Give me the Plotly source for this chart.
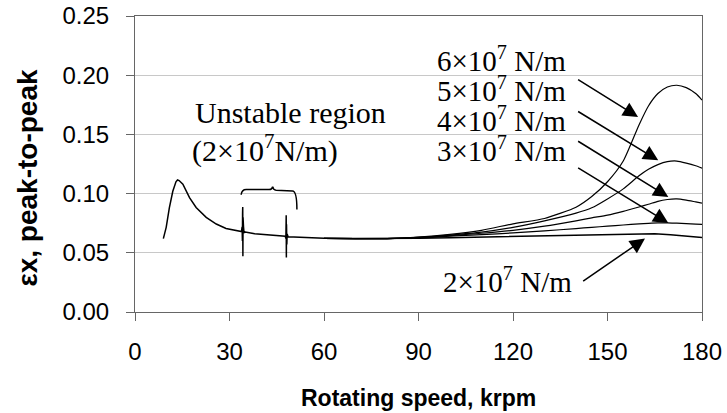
import plotly.graph_objects as go

# ---- data ----
speed_2e7 = [9.0, 9.9, 10.9, 12.0, 13.0, 13.5, 14.0, 15.2, 17.3, 19.4, 22.6, 25.8, 28.9, 32.6,
             33.8, 34.0, 34.1, 34.15, 34.2, 34.25, 34.3, 34.35, 34.45, 34.6, 35.0,
             38, 42, 46, 47.7, 47.9, 48.0, 48.05, 48.1, 48.2, 48.3, 48.6,
             52, 60, 70, 80, 90, 100, 115, 130, 140, 150, 160, 165, 170, 175, 180]
eps_2e7 = [0.062, 0.0715, 0.088, 0.102, 0.110, 0.1115, 0.111, 0.1079, 0.0966, 0.0883, 0.0799, 0.0743, 0.0706, 0.0687,
           0.068, 0.072, 0.060, 0.083, 0.0887, 0.047, 0.080, 0.056, 0.072, 0.067, 0.0675,
           0.066, 0.065, 0.0643, 0.064, 0.062, 0.0817, 0.046, 0.074, 0.057, 0.066, 0.0635,
           0.063, 0.0622, 0.062, 0.062, 0.0622, 0.0628, 0.0635, 0.0642, 0.0647, 0.0653, 0.0658, 0.066, 0.0652, 0.064, 0.063]

speed_hi = [60, 70, 80, 90, 100, 110, 120, 130, 140, 145, 150, 155, 160, 163, 166, 169, 172, 175, 178, 180]
eps_3e7 = [0.0622, 0.062, 0.062, 0.0625, 0.064, 0.0653, 0.0668, 0.0685, 0.0705, 0.0715, 0.0725, 0.0735,
           0.0745, 0.0749, 0.0752, 0.0752, 0.075, 0.0746, 0.0742, 0.074]
eps_4e7 = [0.0622, 0.062, 0.062, 0.063, 0.0645, 0.0665, 0.069, 0.0725, 0.077, 0.0795, 0.0818, 0.085,
           0.0887, 0.091, 0.0935, 0.095, 0.0955, 0.0945, 0.093, 0.092]
eps_5e7 = [0.0622, 0.062, 0.062, 0.063, 0.065, 0.0675, 0.0715, 0.077, 0.0835, 0.088, 0.0955, 0.104,
           0.115, 0.1205, 0.1245, 0.127, 0.1275, 0.1258, 0.1235, 0.1215]
eps_6e7 = [0.0622, 0.062, 0.062, 0.0632, 0.0655, 0.069, 0.0745, 0.079, 0.0885, 0.0975, 0.110, 0.1275,
           0.158, 0.174, 0.1845, 0.1900, 0.1915, 0.1895, 0.1845, 0.179]

x_ticks = [0, 30, 60, 90, 120, 150, 180]
y_ticks = [0.00, 0.05, 0.10, 0.15, 0.20, 0.25]

# label text, label anchor (tail of arrow) and arrow tip, in data units
labels = ["6×10<sup>7</sup> N/m", "5×10<sup>7</sup> N/m", "4×10<sup>7</sup> N/m",
          "3×10<sup>7</sup> N/m", "2×10<sup>7</sup> N/m"]
label_x = [95.3, 95.3, 95.3, 95.3, 97.0]
label_y = [0.2140, 0.1885, 0.1630, 0.1375, 0.0272]
tail_x = [140.2, 140.2, 140.2, 140.2, 141.8]
tail_y = [0.1971, 0.1701, 0.1450, 0.1225, 0.0253]
tip_x = [159.7, 166.1, 169.3, 169.3, 161.9]
tip_y = [0.1647, 0.1281, 0.0971, 0.0752, 0.0620]

SERIF = "Liberation Serif, Times New Roman, serif"
SANS = "Liberation Sans, Arial, sans-serif"

fig = go.Figure()
hi_line = dict(color="black", width=1.2, shape="spline", smoothing=0.6)
fig.add_trace(go.Scatter(x=speed_hi, y=eps_6e7, mode="lines", line=hi_line))
fig.add_trace(go.Scatter(x=speed_hi, y=eps_5e7, mode="lines", line=hi_line))
fig.add_trace(go.Scatter(x=speed_hi, y=eps_4e7, mode="lines", line=hi_line))
fig.add_trace(go.Scatter(x=speed_hi, y=eps_3e7, mode="lines", line=hi_line))
fig.add_trace(go.Scatter(x=speed_2e7, y=eps_2e7, mode="lines", line=dict(color="black", width=1.5)))

annotations = []
for t, lx, ly in zip(labels, label_x, label_y):
    annotations.append(dict(x=lx, y=ly, xref="x", yref="y", text=t, showarrow=False,
                            xanchor="left", yanchor="middle",
                            font=dict(family=SERIF, size=29, color="black")))
for ax_, ay_, x_, y_ in zip(tail_x, tail_y, tip_x, tip_y):
    annotations.append(dict(x=x_, y=y_, ax=ax_, ay=ay_, xref="x", yref="y", axref="x", ayref="y",
                            text="", showarrow=True, arrowhead=2, arrowsize=2, arrowwidth=1.5,
                            arrowcolor="black"))
annotations.append(dict(x=18.3, y=0.1685, xref="x", yref="y", text="Unstable region", showarrow=False,
                        xanchor="left", yanchor="middle", font=dict(family=SERIF, size=30, color="black")))
annotations.append(dict(x=17.6, y=0.1380, xref="x", yref="y", text="(2×10<sup>7</sup>N/m)", showarrow=False,
                        xanchor="left", yanchor="middle", font=dict(family=SERIF, size=30, color="black")))
annotations.append(dict(x=0.5, y=-0.29, xref="paper", yref="paper", text="<b>Rotating speed, krpm</b>",
                        showarrow=False, xanchor="center", yanchor="middle",
                        font=dict(family=SANS, size=23, color="black")))
annotations.append(dict(x=-0.19, y=0.455, xref="paper", yref="paper", text="<b>εx, peak-to-peak</b>",
                        showarrow=False, xanchor="center", yanchor="middle", textangle=-90,
                        font=dict(family=SANS, size=28, color="black")))

brace = ("M 33.7,0.0990 Q 33.9,0.1034 35.3,0.1034 L 42.6,0.1034 Q 43.5,0.1034 43.7,0.1058 "
         "Q 43.9,0.1030 44.8,0.1028 L 50.0,0.1022 Q 51.4,0.1020 51.4,0.0865")
fig.add_shape(type="path", path=brace, xref="x", yref="y", line=dict(color="black", width=1.5))

fig.update_layout(
    width=727, height=413,
    margin=dict(l=135, r=25, t=16, b=101, autoexpand=False),
    paper_bgcolor="white", plot_bgcolor="white",
    showlegend=False,
    annotations=annotations,
    xaxis=dict(range=[0, 180], tickvals=x_ticks, ticktext=[str(v) for v in x_ticks],
               showgrid=False, zeroline=False, showline=True, linecolor="#666", linewidth=1.2,
               mirror=True, ticks="outside", ticklen=8, tickcolor="#666", tickwidth=1.2,
               ticklabelstandoff=10, automargin=False,
               tickfont=dict(family=SANS, size=24, color="black")),
    yaxis=dict(range=[0, 0.25], tickvals=y_ticks, ticktext=[f"{v:.2f}" for v in y_ticks],
               showgrid=True, gridcolor="#c8c8c8", gridwidth=1, zeroline=False,
               showline=True, linecolor="#666", linewidth=1.2, mirror=True,
               ticks="outside", ticklen=8, tickcolor="#666", tickwidth=1.2,
               ticklabelstandoff=12, automargin=False,
               tickfont=dict(family=SANS, size=24, color="black")),
)

fig.write_html("out.html")
